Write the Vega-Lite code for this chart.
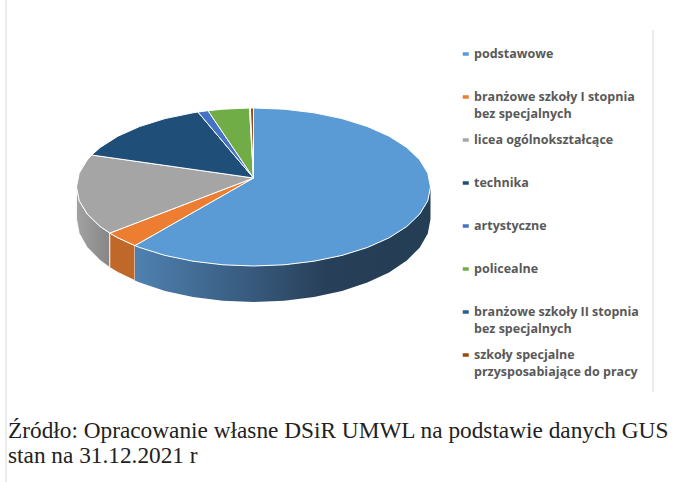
{"$schema":"https://vega.github.io/schema/vega-lite/v6.json","width":695,"height":482,"padding":0,"autosize":"none","background":"white","config":{"view":{"stroke":null}},
"title":{"text":["Źródło: Opracowanie własne DSiR UMWL na podstawie danych GUS","stan na 31.12.2021 r"],"orient":"bottom","anchor":"start","frame":"group","font":"Liberation Serif","fontSize":23.3,"fontWeight":"normal","lineHeight":25,"color":"#222222","offset":-62,"dx":8,"baseline":"top"},
"projection":{"type":"identity","reflectY":true,"scale":1,"translate":[253.5,187]},
"layer":[
{"data":{"values":[{"type":"Feature","properties":{"name":"frame left"},"geometry":{"type":"LineString","coordinates":[[-247.5,187],[-247.5,-295]]}},{"type":"Feature","properties":{"name":"frame right"},"geometry":{"type":"LineString","coordinates":[[399.5,157],[399.5,-205]]}}]},"mark":{"type":"geoshape","filled":false,"stroke":"#e4e4e4","strokeWidth":1.5},"encoding":{}},
{"data":{"values":[{"type":"Feature","properties":{"name":"licea wall"},"geometry":{"type":"Polygon","coordinates":[[[-177,0],[-174.3,-13.7],[-166.3,-27],[-153.3,-39.5],[-143.7,-46.1],[-143.7,-80.5],[-153.3,-73.5],[-166.3,-60.4],[-174.3,-46.4],[-177,-32],[-177,0]]]}}]},"mark":{"type":"geoshape","stroke":"white","strokeWidth":0.8,"fill":{"gradient":"linear","x1":0,"x2":1,"y1":0,"y2":0,"stops":[{"offset":0,"color":"#a2a2a2"},{"offset":1,"color":"#868686"}]}},"encoding":{}},
{"data":{"values":[{"type":"Feature","properties":{"name":"branzowe I wall"},"geometry":{"type":"Polygon","coordinates":[[[-143.7,-46.1],[-135.6,-50.8],[-118.6,-58.6],[-118.6,-93.6],[-135.6,-85.4],[-143.7,-80.5],[-143.7,-46.1]]]}}]},"mark":{"type":"geoshape","stroke":"white","strokeWidth":0.8,"fill":"#c0682a"},"encoding":{}},
{"data":{"values":[{"type":"Feature","properties":{"name":"podstawowe wall"},"geometry":{"type":"Polygon","coordinates":[[[-118.6,-58.6],[-113.8,-60.5],[-88.5,-68.4],[-60.5,-74.2],[-30.7,-77.8],[0,-79],[30.7,-77.8],[60.5,-74.2],[88.5,-68.4],[113.8,-60.5],[135.6,-50.8],[153.3,-39.5],[166.3,-27],[174.3,-13.7],[177,0],[177,-32],[174.3,-46.4],[166.3,-60.4],[153.3,-73.5],[135.6,-85.4],[113.8,-95.6],[88.5,-103.9],[60.5,-110],[30.7,-113.7],[0,-115],[-30.7,-113.7],[-60.5,-110],[-88.5,-103.9],[-113.8,-95.6],[-118.6,-93.6],[-118.6,-58.6]]]}}]},"mark":{"type":"geoshape","fill":{"gradient":"linear","x1":0,"x2":1,"y1":0,"y2":0,"stops":[{"offset":0,"color":"#4f81b0"},{"offset":0.4,"color":"#37597c"},{"offset":0.65,"color":"#273f58"},{"offset":1,"color":"#243e54"}]}},"encoding":{}},
{"data":{"values":[
{"type":"Feature","properties":{"category":"podstawowe","share":62},"geometry":{"type":"Polygon","coordinates":[[[0,9],[0,79],[30.7,77.8],[60.5,74.2],[88.5,68.4],[113.8,60.5],[135.6,50.8],[153.3,39.5],[166.3,27],[174.3,13.7],[177,0],[174.3,-13.7],[166.3,-27],[153.3,-39.5],[135.6,-50.8],[113.8,-60.5],[88.5,-68.4],[60.5,-74.2],[30.7,-77.8],[0,-79],[-30.7,-77.8],[-60.5,-74.2],[-88.5,-68.4],[-113.8,-60.5],[-118.6,-58.6],[0,9]]]}},
{"type":"Feature","properties":{"category":"branżowe szkoły I stopnia bez specjalnych","share":3},"geometry":{"type":"Polygon","coordinates":[[[0,9],[-118.6,-58.6],[-135.6,-50.8],[-143.7,-46.1],[0,9]]]}},
{"type":"Feature","properties":{"category":"licea ogólnokształcące","share":16.5},"geometry":{"type":"Polygon","coordinates":[[[0,9],[-143.7,-46.1],[-153.3,-39.5],[-166.3,-27],[-174.3,-13.7],[-177,0],[-174.3,13.7],[-166.3,27],[-161.8,32],[0,9]]]}},
{"type":"Feature","properties":{"category":"technika","share":13},"geometry":{"type":"Polygon","coordinates":[[[0,9],[-161.8,32],[-153.3,39.5],[-135.6,50.8],[-113.8,60.5],[-88.5,68.4],[-60.5,74.2],[-55.6,75],[0,9]]]}},
{"type":"Feature","properties":{"category":"artystyczne","share":1},"geometry":{"type":"Polygon","coordinates":[[[0,9],[-55.6,75],[-45.5,76.3],[0,9]]]}},
{"type":"Feature","properties":{"category":"policealne","share":4},"geometry":{"type":"Polygon","coordinates":[[[0,9],[-45.5,76.3],[-30.7,77.8],[-4,79],[0,9]]]}},
{"type":"Feature","properties":{"category":"branżowe szkoły II stopnia bez specjalnych","share":0.1},"geometry":{"type":"Polygon","coordinates":[[[0,9],[-4,79],[-3.1,79],[0,9]]]}},
{"type":"Feature","properties":{"category":"szkoły specjalne przysposabiające do pracy","share":0.4},"geometry":{"type":"Polygon","coordinates":[[[0,9],[-3.1,79],[0,79],[0,9]]]}}
]},
"mark":{"type":"geoshape","stroke":"white","strokeWidth":1},
"encoding":{"color":{"field":"properties.category","type":"nominal","scale":{"domain":["podstawowe","branżowe szkoły I stopnia bez specjalnych","licea ogólnokształcące","technika","artystyczne","policealne","branżowe szkoły II stopnia bez specjalnych","szkoły specjalne przysposabiające do pracy"],"range":["#5b9bd5","#ed7d31","#a5a5a5","#1f4e79","#4472c4","#70ad47","#255e91","#9e480e"]},
"legend":{"title":null,"orient":"none","legendX":459.5,"legendY":37,"clipHeight":42,"rowPadding":1,"symbolType":"M-1,-1.93H1V-0.73H-1Z","symbolSize":36,"symbolStrokeWidth":0,"labelFont":"Open Sans","labelFontSize":12.5,"labelFontWeight":"bold","labelColor":"#595959","labelBaseline":"alphabetic","labelLimit":300,"labelOffset":2,"encoding":{"labels":{"lineHeight":{"value":17}}},
"labelExpr":"datum.label=='branżowe szkoły I stopnia bez specjalnych'?['branżowe szkoły I stopnia','bez specjalnych']:datum.label=='branżowe szkoły II stopnia bez specjalnych'?['branżowe szkoły II stopnia','bez specjalnych']:datum.label=='szkoły specjalne przysposabiające do pracy'?['szkoły specjalne','przysposabiające do pracy']:datum.label"}}}}
]}
